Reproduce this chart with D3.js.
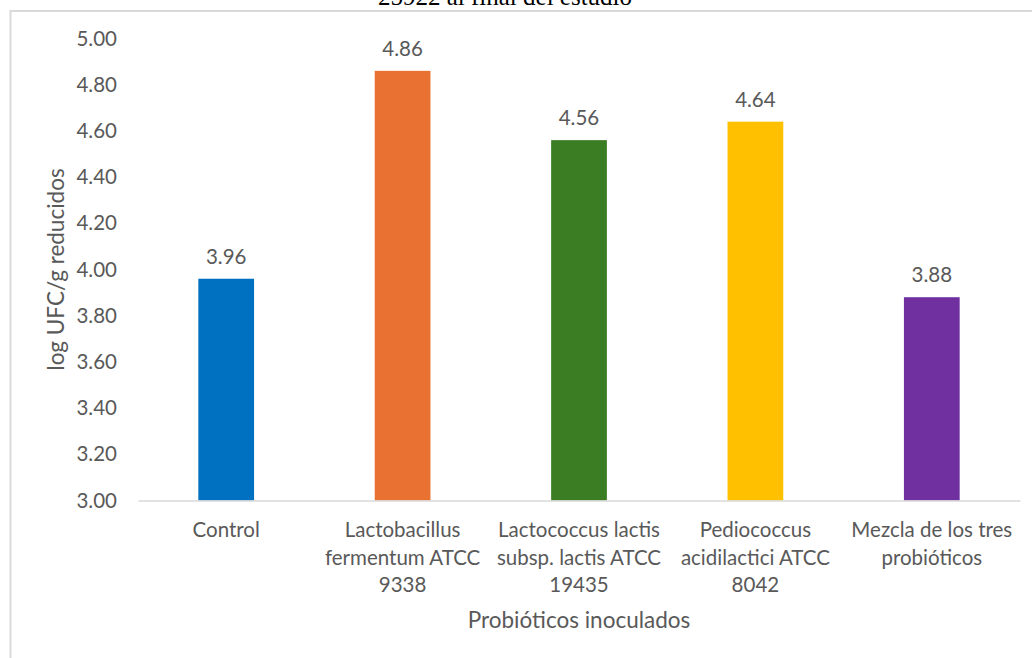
<!DOCTYPE html>
<html>
<head>
<meta charset="utf-8">
<script src="https://cdn.jsdelivr.net/npm/d3@7/dist/d3.min.js"></script>
<style>
  html, body { margin: 0; padding: 0; background: #fff; }
  svg { display: block; }
</style>
</head>
<body>
<svg id="chart" width="1032" height="658"></svg>
<script>
// Probiotic strains (each label split into its display lines)
const categories = [
  ["Control"],
  ["Lactobacillus", "fermentum ATCC", "9338"],
  ["Lactococcus lactis", "subsp. lactis ATCC", "19435"],
  ["Pediococcus", "acidilactici ATCC", "8042"],
  ["Mezcla de los tres", "probióticos"]
];
// log CFU/g reduction per inoculated probiotic
const values = [3.96, 4.86, 4.56, 4.64, 3.88];
const barColors = ["#0070C0", "#E97132", "#3B7D23", "#FFC000", "#7030A0"];
const yTicks = [3.0, 3.2, 3.4, 3.6, 3.8, 4.0, 4.2, 4.4, 4.6, 4.8, 5.0];
const titleLine = "25922 al final del estudio";
const xTitle = "Probióticos inoculados";
const yTitle = "log UFC/g reducidos";

const svg = d3.select("#chart");
const font = "Lato, 'Open Sans', sans-serif";
const textColor = "#595959";
const labelSize = 20.5;
const titleSize = 22.5;

// outer chart frame (extends past the right and bottom edges)
svg.append("rect")
  .attr("x", 10.5).attr("y", 11)
  .attr("width", 1040).attr("height", 700)
  .attr("fill", "#fff")
  .attr("stroke", "#d9d9d9").attr("stroke-width", 2);

// second line of the chart title
svg.append("text")
  .attr("x", 505).attr("y", 5)
  .attr("text-anchor", "middle")
  .attr("font-family", "'Liberation Serif', 'Times New Roman', serif")
  .attr("font-size", 25)
  .attr("fill", "#000")
  .text(titleLine);

const plot = { left: 138, right: 1020, top: 38.5, bottom: 500.5 };

const x = d3.scaleBand()
  .domain(d3.range(categories.length))
  .range([plot.left, plot.right])
  .paddingInner(0.684)
  .paddingOuter(0.342);

const y = d3.scaleLinear()
  .domain([3, 5])
  .range([plot.bottom, plot.top]);

// y tick labels
const yAxis = d3.axisLeft(y)
  .tickValues(yTicks)
  .tickFormat(d3.format(".2f"))
  .tickSize(0)
  .tickPadding(0);
const gy = svg.append("g")
  .attr("transform", `translate(${117},0)`)
  .call(yAxis);
gy.select(".domain").remove();
gy.selectAll("text")
  .attr("font-family", font)
  .attr("font-size", labelSize)
  .attr("fill", textColor);

// bars
svg.append("g").selectAll("rect")
  .data(values)
  .join("rect")
  .attr("x", (d, i) => x(i))
  .attr("y", d => y(d))
  .attr("width", x.bandwidth())
  .attr("height", d => y(3) - y(d))
  .attr("fill", (d, i) => barColors[i]);

// baseline axis line
const xAxis = d3.axisBottom(x).tickSize(0).tickFormat("");
const gx = svg.append("g")
  .attr("transform", `translate(0,${y(3)})`)
  .call(xAxis);
gx.select(".domain")
  .attr("stroke", "#d9d9d9")
  .attr("stroke-width", 1.5);

// value labels
svg.append("g").selectAll("text")
  .data(values)
  .join("text")
  .attr("x", (d, i) => x(i) + x.bandwidth() / 2)
  .attr("y", d => y(d) - 15)
  .attr("text-anchor", "middle")
  .attr("font-family", font)
  .attr("font-size", labelSize)
  .attr("fill", textColor)
  .text(d => d.toFixed(2));

// category labels
const catG = svg.append("g").selectAll("text")
  .data(categories)
  .join("text")
  .attr("x", (d, i) => x(i) + x.bandwidth() / 2)
  .attr("y", 537)
  .attr("text-anchor", "middle")
  .attr("font-family", font)
  .attr("font-size", labelSize)
  .attr("fill", textColor);
catG.selectAll("tspan")
  .data(d => d)
  .join("tspan")
  .attr("x", function() { return this.parentNode.getAttribute("x"); })
  .attr("dy", (d, i) => i === 0 ? 0 : 27.5)
  .text(d => d);

// axis titles
svg.append("text")
  .attr("x", (plot.left + plot.right) / 2)
  .attr("y", 628)
  .attr("text-anchor", "middle")
  .attr("font-family", font)
  .attr("font-size", titleSize)
  .attr("fill", textColor)
  .text(xTitle);

svg.append("text")
  .attr("transform", `translate(64,${(plot.top + plot.bottom) / 2}) rotate(-90)`)
  .attr("text-anchor", "middle")
  .attr("font-family", font)
  .attr("font-size", titleSize)
  .attr("fill", textColor)
  .text(yTitle);
</script>
</body>
</html>
